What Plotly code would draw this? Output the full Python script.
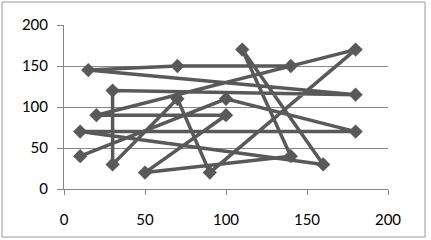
import plotly.graph_objects as go

# Points in drawing order (scatter with straight lines)
x_vals = [140, 70, 15, 180, 30, 30, 70, 90, 180, 20, 100, 50, 140, 110, 160, 10, 180, 100, 10]
y_vals = [150, 150, 145, 115, 120, 30, 110, 20, 170, 90, 90, 20, 40, 170, 30, 70, 70, 110, 40]

x_ticks = [0, 50, 100, 150, 200]
y_ticks = [0, 50, 100, 150, 200]

LINE = "#595959"
GRID = "#868686"

fig = go.Figure()
fig.add_trace(go.Scatter(
    x=x_vals, y=y_vals, mode="lines+markers",
    line=dict(color=LINE, width=3.5),
    marker=dict(symbol="diamond", size=11, color=LINE),
    showlegend=False,
))

fig.update_layout(
    width=431, height=240,
    margin=dict(l=64, r=43, t=25, b=51),
    paper_bgcolor="white", plot_bgcolor="white",
    font=dict(family="Lato, 'Open Sans', sans-serif", size=15, color="#000000"),
    xaxis=dict(range=[0, 200], tickvals=x_ticks, showgrid=False, zeroline=False,
               showline=True, linecolor=GRID, linewidth=1,
               ticks="outside", ticklen=5, tickcolor=GRID, ticklabelstandoff=12),
    yaxis=dict(range=[0, 200], tickvals=y_ticks, showgrid=True, gridcolor=GRID, gridwidth=1,
               zeroline=False, showline=True, linecolor=GRID, linewidth=1,
               ticks="outside", ticklen=6, tickcolor=GRID, ticklabelstandoff=6),
    shapes=[dict(type="rect", xref="paper", yref="paper",
                 x0=(2 - 64) / 324, x1=(425 - 64) / 324,
                 y0=(189 - 237) / 164, y1=(189 - 2) / 164,
                 line=dict(color="#9a9a9a", width=1), fillcolor="rgba(0,0,0,0)", layer="below")],
)

fig.write_html("out.html")
